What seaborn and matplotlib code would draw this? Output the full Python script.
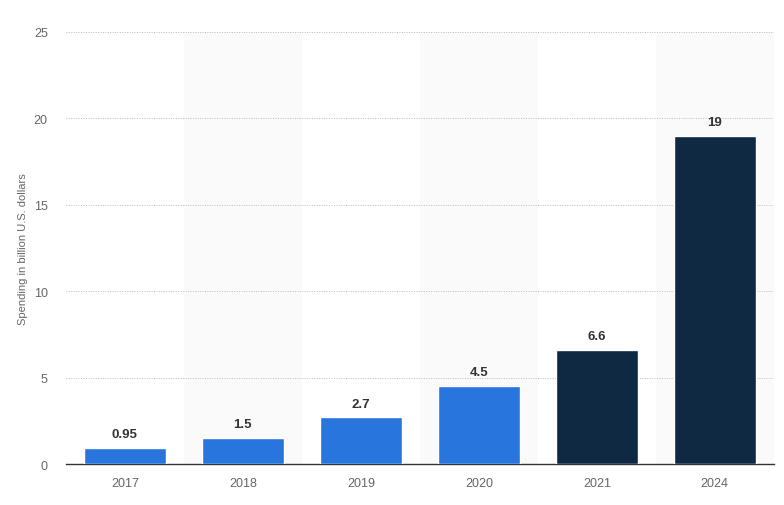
import numpy as np
import pandas as pd
import seaborn as sns
import matplotlib.pyplot as plt

years = ["2017", "2018", "2019", "2020", "2021", "2024"]
spending = [0.95, 1.5, 2.7, 4.5, 6.6, 19]
labels = ["0.95", "1.5", "2.7", "4.5", "6.6", "19"]
kind = ["actual", "actual", "actual", "actual", "forecast", "forecast"]

df = pd.DataFrame({"year": years, "spending": spending, "kind": kind})

sns.set_style("white")
plt.rcParams['font.family'] = ['Liberation Sans', 'DejaVu Sans']

fig = plt.figure(figsize=(7.84, 5.06), dpi=100)
ax = fig.add_axes([0.084, 0.081, 0.903, 0.854])

# alternating background bands
for i in range(len(years)):
    if i % 2 == 1:
        ax.axvspan(i - 0.5, i + 0.5, color="#fafafa", zorder=0, lw=0)

sns.barplot(data=df, x="year", y="spending", hue="kind",
            palette={"actual": "#2876dd", "forecast": "#0f2942"},
            saturation=1, width=0.69, dodge=False, legend=False, ax=ax, zorder=3)

for i, (v, t) in enumerate(zip(spending, labels)):
    ax.text(i, v + 0.45, t, ha="center", va="bottom", fontsize=9.5,
            fontweight="bold", color="#333333", zorder=4)

ax.set_ylim(0, 25)
ax.set_xlim(-0.5, len(years) - 0.5)
ax.set_yticks([0, 5, 10, 15, 20, 25])
ax.grid(axis="y", color="#bbbbbb", linestyle=(0, (1, 1.5)), linewidth=0.7, zorder=1)
ax.set_axisbelow(True)
for s in ["top", "right", "left"]:
    ax.spines[s].set_visible(False)
ax.spines["bottom"].set_color("#333333")
ax.spines["bottom"].set_linewidth(1.0)
ax.tick_params(axis="both", length=0, labelsize=9, colors="#666666")
ax.tick_params(axis="y", pad=13)
ax.tick_params(axis="x", pad=9)
ax.set_xlabel("")
ax.set_ylabel("Spending in billion U.S. dollars", fontsize=8, color="#666666", labelpad=4)

fig.savefig("out.png", dpi=100)
